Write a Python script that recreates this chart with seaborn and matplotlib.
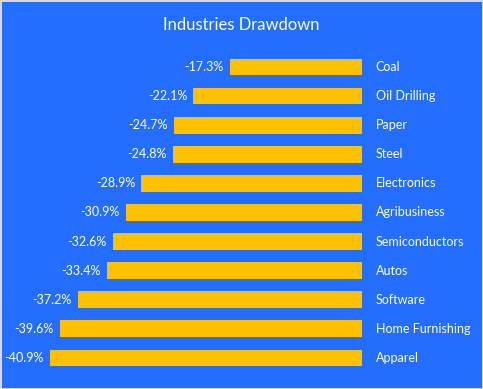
import numpy as np
import matplotlib.pyplot as plt
import seaborn as sns
import pandas as pd

industries = ["Coal", "Oil Drilling", "Paper", "Steel", "Electronics", "Agribusiness",
              "Semiconductors", "Autos", "Software", "Home Furnishing", "Apparel"]
drawdown = [-17.3, -22.1, -24.7, -24.8, -28.9, -30.9, -32.6, -33.4, -37.2, -39.6, -40.9]

bg = "#236EFF"
bar_color = "#FFC000"

plt.rcParams["font.family"] = ["Lato", "DejaVu Sans"]

df = pd.DataFrame({"Industry": industries, "Drawdown": drawdown})

fig = plt.figure(figsize=(4.83, 3.89), dpi=100)
fig.patch.set_facecolor(bg)
fig.patch.set_edgecolor("#D9D9D9")
fig.patch.set_linewidth(2)

ax = fig.add_axes([41.5 / 483, 16.5 / 389, 320.5 / 483, 320.1 / 389])
ax.set_facecolor(bg)
sns.barplot(data=df, x="Drawdown", y="Industry", orient="h", color=bar_color,
            width=0.58, saturation=1, ax=ax)

ax.set_xlim(-42, 0)
ax.set_ylim(10.5, -0.5)
ax.axis("off")

for i, (name, val) in enumerate(zip(industries, drawdown)):
    ax.text(1.8, i, name, color="white", fontsize=9, va="center", ha="left", clip_on=False)
    ax.annotate(f"{val:.1f}%", (val, i), xytext=(-4.5, 0), textcoords="offset points",
                color="white", fontsize=9, va="center", ha="right")

fig.text(241 / 483, 1 - 25 / 389, "Industries Drawdown", color="white", fontsize=12,
         ha="center", va="center")

fig.savefig("out.png", dpi=100, facecolor=fig.get_facecolor(), edgecolor=fig.get_edgecolor())
